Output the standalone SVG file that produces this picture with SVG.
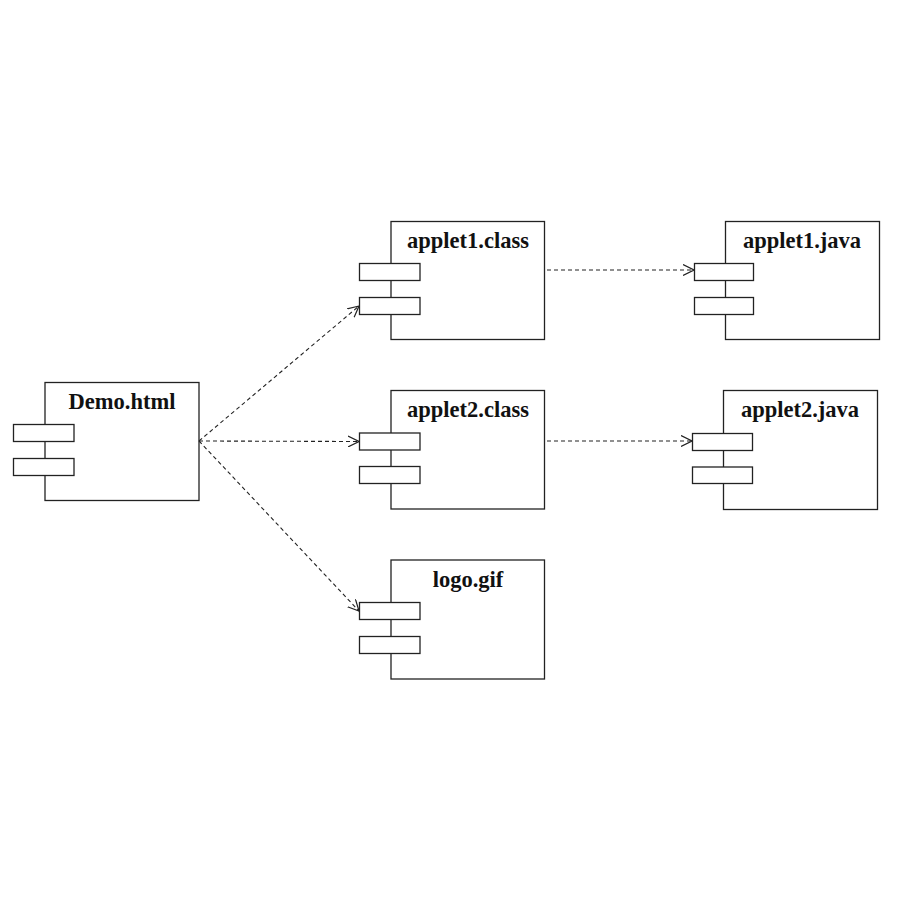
<svg xmlns="http://www.w3.org/2000/svg" width="900" height="900" viewBox="0 0 900 900">
  <style>
    .body { fill: #ffffff; stroke: #222; stroke-width: 1.3; }
    .port { fill: #ffffff; stroke: #222; stroke-width: 1.3; }
    .label { font-family: "Liberation Serif", "Times New Roman", serif; font-weight: bold; font-size: 22.5px; fill: #111; text-anchor: middle; }
    .dep { fill: none; stroke: #222; stroke-width: 1.1; stroke-dasharray: 4 3; }
  </style>
  <defs>
    <marker id="open" viewBox="0 0 12 12" refX="11" refY="6" markerWidth="12" markerHeight="12" markerUnits="userSpaceOnUse" orient="auto">
      <path d="M0,0.5 L11,6 L0,11.5" fill="none" stroke="#222" stroke-width="1.2"/>
    </marker>
  </defs>
  <rect width="900" height="900" fill="#ffffff"/>

  <!-- components -->
  <g id="demo-html">
    <rect class="body" x="45" y="382.5" width="154" height="118"/>
    <rect class="port" x="13.5" y="424.5" width="60.5" height="17"/>
    <rect class="port" x="13.5" y="458.5" width="60.5" height="17"/>
    <text class="label" x="122" y="409">Demo.html</text>
  </g>

  <g id="applet1-class">
    <rect class="body" x="391" y="221.5" width="153.5" height="118"/>
    <rect class="port" x="359.5" y="263.5" width="60.5" height="17"/>
    <rect class="port" x="359.5" y="297.5" width="60.5" height="17"/>
    <text class="label" x="468" y="248">applet1.class</text>
  </g>

  <g id="applet2-class">
    <rect class="body" x="391" y="390.5" width="153.5" height="118.5"/>
    <rect class="port" x="359.5" y="433" width="60.5" height="17"/>
    <rect class="port" x="359.5" y="466.5" width="60.5" height="17"/>
    <text class="label" x="468" y="417">applet2.class</text>
  </g>

  <g id="logo-gif">
    <rect class="body" x="391" y="560" width="153.5" height="119"/>
    <rect class="port" x="359.5" y="602.5" width="60.5" height="17"/>
    <rect class="port" x="359.5" y="636.5" width="60.5" height="17"/>
    <text class="label" x="468" y="587">logo.gif</text>
  </g>

  <g id="applet1-java">
    <rect class="body" x="725.5" y="221.5" width="154" height="118"/>
    <rect class="port" x="694.5" y="263.5" width="59" height="17"/>
    <rect class="port" x="694.5" y="297.5" width="59" height="17"/>
    <text class="label" x="802" y="248">applet1.java</text>
  </g>

  <g id="applet2-java">
    <rect class="body" x="723.5" y="390.5" width="154" height="119"/>
    <rect class="port" x="692.5" y="433.5" width="60" height="17"/>
    <rect class="port" x="692.5" y="467" width="60" height="16.5"/>
    <text class="label" x="800" y="417">applet2.java</text>
  </g>

  <!-- dependencies -->
  <g id="connectors">
    <path class="dep" d="M199,441 L359,306" marker-end="url(#open)"/>
    <path class="dep" d="M199,441 L359,441.5" marker-end="url(#open)"/>
    <path class="dep" d="M199,441 L359,611" marker-end="url(#open)"/>
    <path class="dep" d="M547,270 L694,270" marker-end="url(#open)"/>
    <path class="dep" d="M547,441 L692,441" marker-end="url(#open)"/>
  </g>
</svg>
